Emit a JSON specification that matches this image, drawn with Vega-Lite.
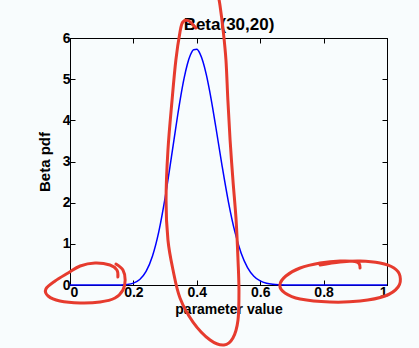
{
  "$schema": "https://vega.github.io/schema/vega-lite/v6.json",
  "width": 317,
  "height": 247,
  "autosize": {"type": "none"},
  "padding": {"left": 70, "top": 38, "right": 32, "bottom": 63},
  "background": "#f8fcfd",
  "config": {
    "font": "Liberation Sans",
    "view": {"stroke": "black", "strokeWidth": 1},
    "axis": {
      "grid": false,
      "domainColor": "black",
      "tickColor": "black",
      "tickSize": -5,
      "labelFont": "Liberation Sans",
      "labelFontSize": 14,
      "labelFontWeight": "bold",
      "labelColor": "black",
      "labelPadding": 5,
      "titleFont": "Liberation Sans",
      "titleFontSize": 14,
      "titleFontWeight": "bold",
      "titleColor": "black"
    }
  },
  "datasets": {
    "pdf": [
      {"x": 0, "y": 0}, {"x": 0.1, "y": 0}, {"x": 0.12, "y": 0.00004}, {"x": 0.14, "y": 0.0004},
      {"x": 0.16, "y": 0.0027}, {"x": 0.18, "y": 0.0127}, {"x": 0.2, "y": 0.0459}, {"x": 0.22, "y": 0.1346},
      {"x": 0.24, "y": 0.331}, {"x": 0.26, "y": 0.699}, {"x": 0.28, "y": 1.291}, {"x": 0.3, "y": 2.116},
      {"x": 0.32, "y": 3.111}, {"x": 0.34, "y": 4.142}, {"x": 0.35, "y": 4.614}, {"x": 0.36, "y": 5.026},
      {"x": 0.37, "y": 5.358}, {"x": 0.38, "y": 5.592}, {"x": 0.39, "y": 5.716}, {"x": 0.4, "y": 5.725},
      {"x": 0.41, "y": 5.622}, {"x": 0.42, "y": 5.413}, {"x": 0.43, "y": 5.112}, {"x": 0.44, "y": 4.735},
      {"x": 0.45, "y": 4.304}, {"x": 0.46, "y": 3.838}, {"x": 0.48, "y": 2.884}, {"x": 0.5, "y": 2.008},
      {"x": 0.52, "y": 1.295}, {"x": 0.54, "y": 0.772}, {"x": 0.56, "y": 0.4246}, {"x": 0.58, "y": 0.2146},
      {"x": 0.6, "y": 0.0993}, {"x": 0.62, "y": 0.0418}, {"x": 0.64, "y": 0.0159}, {"x": 0.66, "y": 0.0055},
      {"x": 0.68, "y": 0.0017}, {"x": 0.7, "y": 0.0005}, {"x": 0.72, "y": 0.0001}, {"x": 0.8, "y": 0},
      {"x": 0.9, "y": 0}, {"x": 1, "y": 0}
    ],
    "ink": [
      {"s": "a", "i": 1, "x": 0.151, "y": 0.194}, {"s": "a", "i": 2, "x": 0.148, "y": 0.364},
      {"s": "a", "i": 3, "x": 0.126, "y": 0.486}, {"s": "a", "i": 4, "x": 0.079, "y": 0.534},
      {"s": "a", "i": 5, "x": 0.032, "y": 0.462}, {"s": "a", "i": 6, "x": -0.006, "y": 0.291},
      {"s": "a", "i": 7, "x": -0.047, "y": 0.097}, {"s": "a", "i": 8, "x": -0.076, "y": -0.097},
      {"s": "a", "i": 9, "x": -0.069, "y": -0.267}, {"s": "a", "i": 10, "x": -0.032, "y": -0.389},
      {"s": "a", "i": 11, "x": 0.032, "y": -0.437}, {"s": "a", "i": 12, "x": 0.095, "y": -0.413},
      {"s": "a", "i": 13, "x": 0.142, "y": -0.316}, {"s": "a", "i": 14, "x": 0.167, "y": -0.121},
      {"s": "a", "i": 15, "x": 0.174, "y": 0.121}, {"s": "a", "i": 16, "x": 0.167, "y": 0.364},
      {"s": "a", "i": 17, "x": 0.145, "y": 0.51},
      {"s": "b", "i": 1, "x": 0.397, "y": 6.243}, {"s": "b", "i": 2, "x": 0.375, "y": 6.413},
      {"s": "b", "i": 3, "x": 0.356, "y": 6.388}, {"s": "b", "i": 4, "x": 0.347, "y": 6.145},
      {"s": "b", "i": 5, "x": 0.334, "y": 5.465}, {"s": "b", "i": 6, "x": 0.322, "y": 4.494},
      {"s": "b", "i": 7, "x": 0.309, "y": 3.279}, {"s": "b", "i": 8, "x": 0.303, "y": 2.065},
      {"s": "b", "i": 9, "x": 0.309, "y": 1.093}, {"s": "b", "i": 10, "x": 0.325, "y": 0.364},
      {"s": "b", "i": 11, "x": 0.347, "y": -0.316}, {"s": "b", "i": 12, "x": 0.388, "y": -0.899},
      {"s": "b", "i": 13, "x": 0.442, "y": -1.336}, {"s": "b", "i": 14, "x": 0.486, "y": -1.457},
      {"s": "b", "i": 15, "x": 0.514, "y": -1.287}, {"s": "b", "i": 16, "x": 0.53, "y": -0.85},
      {"s": "b", "i": 17, "x": 0.533, "y": -0.121}, {"s": "b", "i": 18, "x": 0.53, "y": 0.607},
      {"s": "b", "i": 19, "x": 0.524, "y": 1.579}, {"s": "b", "i": 20, "x": 0.514, "y": 2.55},
      {"s": "b", "i": 21, "x": 0.505, "y": 3.522}, {"s": "b", "i": 22, "x": 0.498, "y": 4.494},
      {"s": "b", "i": 23, "x": 0.492, "y": 5.465}, {"s": "b", "i": 24, "x": 0.483, "y": 6.194},
      {"s": "b", "i": 25, "x": 0.473, "y": 6.801}, {"s": "b", "i": 26, "x": 0.467, "y": 7.044},
      {"s": "c", "i": 1, "x": 0.915, "y": 0.413}, {"s": "c", "i": 2, "x": 0.905, "y": 0.559},
      {"s": "c", "i": 3, "x": 0.852, "y": 0.583}, {"s": "c", "i": 4, "x": 0.789, "y": 0.534},
      {"s": "c", "i": 5, "x": 0.726, "y": 0.413}, {"s": "c", "i": 6, "x": 0.681, "y": 0.219},
      {"s": "c", "i": 7, "x": 0.662, "y": 0}, {"s": "c", "i": 8, "x": 0.678, "y": -0.194},
      {"s": "c", "i": 9, "x": 0.726, "y": -0.34}, {"s": "c", "i": 10, "x": 0.82, "y": -0.413},
      {"s": "c", "i": 11, "x": 0.915, "y": -0.389}, {"s": "c", "i": 12, "x": 0.994, "y": -0.267},
      {"s": "c", "i": 13, "x": 1.035, "y": -0.049}, {"s": "c", "i": 14, "x": 1.041, "y": 0.219},
      {"s": "c", "i": 15, "x": 1.022, "y": 0.413}, {"s": "c", "i": 16, "x": 0.978, "y": 0.534},
      {"s": "c", "i": 17, "x": 0.915, "y": 0.583}, {"s": "c", "i": 18, "x": 0.852, "y": 0.559},
      {"s": "c", "i": 19, "x": 0.789, "y": 0.486}
    ]
  },
  "layer": [
    {
      "data": {"name": "pdf"},
      "mark": {"type": "line", "color": "#0000ff", "strokeWidth": 1.5, "interpolate": "monotone"},
      "encoding": {
        "x": {"field": "x", "type": "quantitative", "scale": {"domain": [0, 1], "nice": false},
              "axis": {"orient": "bottom", "values": [0, 0.2, 0.4, 0.6, 0.8, 1], "format": "~g", "title": "parameter value", "titlePadding": 3}},
        "y": {"field": "y", "type": "quantitative", "scale": {"domain": [0, 6], "nice": false},
              "axis": {"orient": "left", "values": [0, 1, 2, 3, 4, 5, 6], "title": "Beta pdf", "titleFontSize": 15, "titlePadding": 10}}
      }
    },
    {
      "data": {"name": "pdf"},
      "mark": {"type": "line", "opacity": 0},
      "encoding": {
        "x": {"field": "x", "type": "quantitative", "scale": {"domain": [0, 1], "nice": false},
              "axis": {"orient": "top", "values": [0, 0.2, 0.4, 0.6, 0.8, 1], "labels": false, "title": "Beta(30,20)", "titleFontSize": 17, "titlePadding": 4}},
        "y": {"field": "y", "type": "quantitative", "scale": {"domain": [0, 6], "nice": false},
              "axis": {"orient": "right", "values": [0, 1, 2, 3, 4, 5, 6], "labels": false, "title": null}}
      }
    },
    {
      "data": {"name": "ink"},
      "mark": {"type": "line", "color": "#e63b2e", "strokeWidth": 3, "strokeCap": "round", "strokeJoin": "round", "interpolate": "cardinal"},
      "encoding": {
        "x": {"field": "x", "type": "quantitative", "scale": {"domain": [0, 1], "nice": false, "zero": false}, "axis": null},
        "y": {"field": "y", "type": "quantitative", "scale": {"domain": [0, 6], "nice": false, "zero": false}, "axis": null},
        "detail": {"field": "s", "type": "nominal"},
        "order": {"field": "i", "type": "quantitative"}
      }
    }
  ],
  "resolve": {
    "scale": {"x": "independent", "y": "independent"},
    "axis": {"x": "independent", "y": "independent"}
  }
}
